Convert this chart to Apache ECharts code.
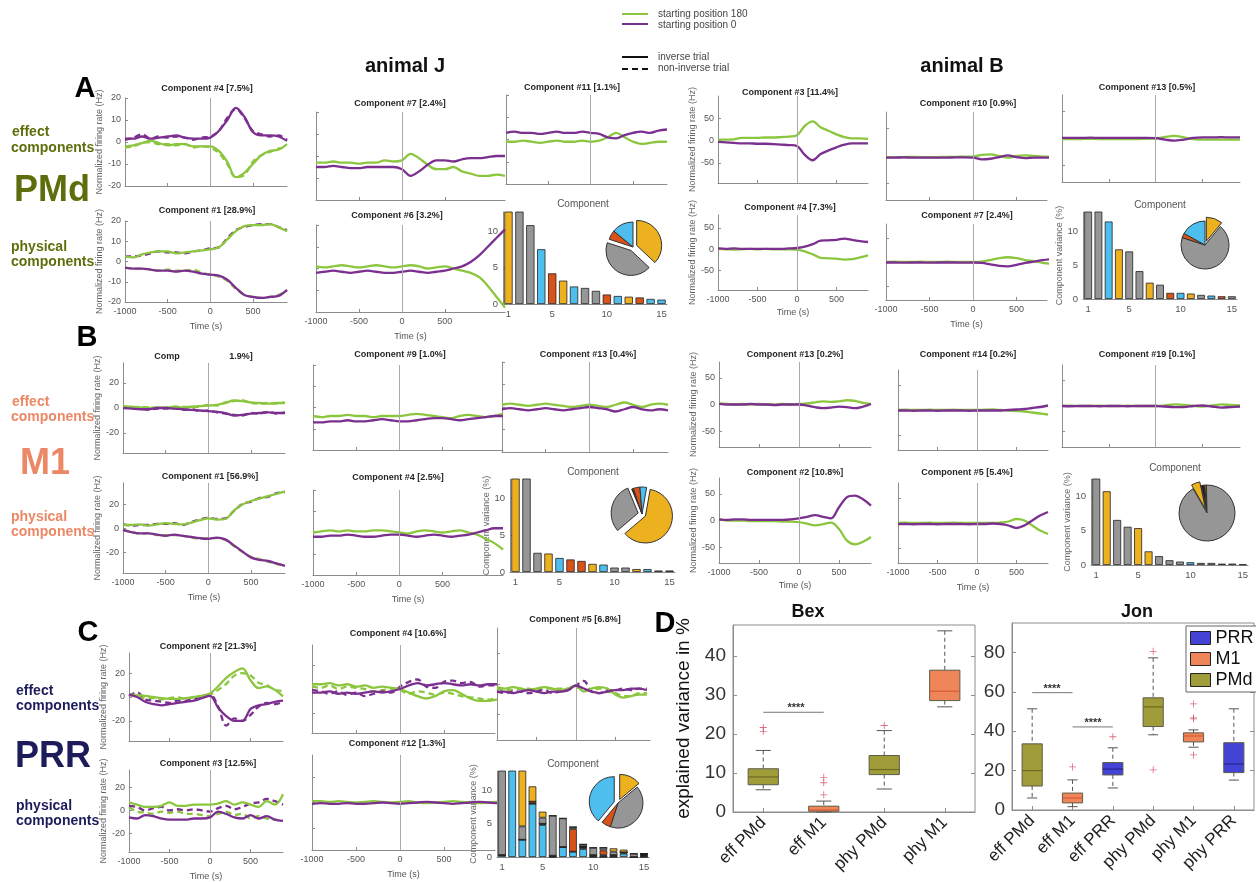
<!DOCTYPE html>
<html>
<head>
<meta charset="utf-8">
<script src="https://cdn.jsdelivr.net/npm/echarts@6/dist/echarts.min.js"></script>
<style>
html,body{margin:0;padding:0;background:#fff;}
#main{width:1256px;height:882px;}
</style>
</head>
<body>
<div id="main"></div>
<script>
// ---------------- time axes (ms relative to movement onset) ----------------
const timeStd  = [-1000,-900,-800,-700,-600,-500,-400,-300,-200,-100,0,100,200,300,400,500,600,700,800,900];
const timeLong = [-1000,-900,-800,-700,-600,-500,-400,-300,-200,-100,0,100,200,300,400,500,600,700,800,900,1000,1100,1200];
const timeTicks = [-1000,-500,0,500];

// ---------------- PMd (row A) ----------------
const a1eG  = [-2,-1.5,-0.5,0.5,-0.5,-1.5,-1,-1,-2,-2,-2,-4,-9,-16,-14,-10,-6,-4,-3.5,-1];
const a1eGD = [-2.5,-2,-0.5,0,-1,-1,-1.5,-1,-2.5,-2,-2.5,-5,-10,-16,-15,-9,-6,-4.5,-3,-2.5];
const a1eP  = [1.5,1.5,2.5,1.5,2,2.5,3,2,1.5,1.5,2,5,10,15.5,11.5,4.5,3,3,2.5,0.5];
const a1ePD = [1,2,3.5,1.5,2.5,2,2.5,2,1,2,2.5,5,11,15,11,5,3.5,2.5,3,1];
const a1pG  = [2.5,2,3.5,4.5,5,5,4,4.5,5,5.5,6,7,11,15,17.5,18,18,18.5,17,15];
const a1pGD = [-3,-3.5,-3.5,-4,-4.5,-4,-4.5,-4.5,-4,-5.5,-6.5,-7.5,-9.5,-13.5,-16.5,-17.5,-18,-17.5,-16.5,-14.5];
const a1pP  = [-3,-3.5,-3.5,-4,-4.5,-4.5,-5,-4.5,-5,-6,-6.5,-7,-9,-13,-16.5,-17.5,-18,-17.5,-17,-14];
const a1pPD = [2.5,2.5,3,4,5,4.5,4.5,4,5,5.5,6.5,7,11.5,15.5,17,18,18.5,18.5,17,15.5];
const a2eG  = [-3,-3,-2.5,-3,-3,-3.5,-3,-3,-2,-2.5,-2,1,-1,-4,-6,-6,-5,-7,-8,-9,-9,-8.5,-9];
const a2eP  = [-5,-5,-4.5,-5,-5.5,-5.5,-5,-5,-5,-5,-6,-9,-7,-4,-2,-2,-2.5,-1.5,-1,-1,-0.5,0,0];
const a2pG  = [1,0.5,1,1.5,1,0.5,1,1.5,1,0.5,1,1.5,1,0,0.5,1,0,-1,-2,-4,-8,-13,-18];
const a2pP  = [-2,-1.5,-1,-1.5,-2,-1.5,-1,-1.5,-2,-2,-1.5,-1,-1.5,-2,-1.5,-1,0,1,3,6,10,14,18];
const a3eG  = [-1,-1,-0.5,-1,-1.5,-1,-0.5,-1,-1,-0.5,-1,-0.5,1,3,1,-1,-2,-1.5,-1,-1];
const a3eP  = [3,3.5,3,3,2.5,3,3.5,3,3,3.5,3,2.5,1,0.5,2,3,3.5,3,4,4.5];
const a4eG  = [2,2,3,6,6,6,7,7,8,9,12,33,43,30,22,14,8,5,5,4];
const a4eP  = [-3,-4,-5,-6,-6,-7,-7,-8,-9,-10,-12,-32,-44,-30,-22,-15,-9,-6,-6,-6];
const a4pG  = [1,0,-1,0,1,0,1,0,0,0,-1,-5,-12,-20,-21,-22,-24,-23,-19,-14];
const a4pP  = [2,1,2,1,1,1,1,1,1,2,3,6,12,20,21,22,25,22,19,17];
const a5eG  = [-2,-2,-2,-1.5,-2,-2,-2,-1.5,-1.5,-1,-1,2,3,0,-3,0,1,0,-1,-1];
const a5eP  = [-3,-3,-2.5,-3,-3,-3,-3,-3,-2.5,-2.5,-3,-6,-5,-2,1,-2,-4,-3,-3,-3];
const a5pG  = [0,0.5,0,0,0.5,0,0,0.5,0,0,0,1,4,8,10,8,4,2,-2,-4];
const a5pP  = [-1,-1,-1.5,-1,-1,-1.5,-1,-1,-1,-1.5,-1,-2,-5,-8,-9,-6,-2,1,4,6];
const a6eG  = [-1,-1,-1,-0.5,-1,-1,-1,-1,-1,-0.5,0,3,5,2,-1,-2,-2,-2,-2,-2];
const a6eP  = [1,1,1,1.5,1,1,1,1,1,1,0.5,-2,-4,-2,1,2,2,2.5,2,2];

// ---------------- M1 (row B) ----------------
const b1eG  = [1,1,0.5,0,0.5,0,1,0.5,1,1.5,2,2.5,4,6,5.5,4.5,4,3.5,4,4];
const b1eGD = [1.5,0.5,1,0.5,0,0.5,1,1,0.5,1,2.5,2,4.5,5.5,6,4,3.5,4,3.5,4.5];
const b1eP  = [0,-0.5,-1,-1,0,0,-0.5,-1,-1.5,-2,-2.5,-3,-4,-6,-5.5,-4.5,-4,-3.5,-4,-4];
const b1ePD = [0.5,0,-0.5,-1.5,-0.5,-0.5,0,-1.5,-1,-2.5,-2,-3.5,-4.5,-5.5,-6,-4,-4.5,-3,-4.5,-3.5];
const b1pG  = [3,3,3.5,2.5,3.5,4.5,4,3.5,5,7,8.5,7.5,8,15,20,23,25,27,29,31];
const b1pGD = [-1.5,-2.5,-4.5,-3.5,-5.5,-5.5,-5.5,-6,-7.5,-8.5,-8,-8,-9.5,-14.5,-19.5,-23.5,-25.5,-27.5,-29.5,-30.5];
const b1pP  = [-1,-3,-4,-4,-5,-6,-5,-6,-7,-8,-8.5,-7.5,-9,-14,-19,-24,-26,-27,-29,-31];
const b1pPD = [3.5,2.5,3,3,4,4,4.5,3,5.5,7.5,9,8,8.5,14.5,20.5,22.5,25.5,26.5,29.5,30.5];
const b2eG  = [-4,-4.5,-4,-4,-3.5,-4,-4,-4.5,-4,-4,-4,-3.5,-3,-3.5,-4,-4.5,-5,-4,-3.5,-4,-4.5,-4,-3];
const b2eP  = [-7,-7,-6.5,-6.5,-6,-6.5,-6.5,-6,-5.5,-6,-6.5,-6.5,-6,-5.5,-5,-5,-5.5,-6,-5.5,-5,-4.5,-4,-4];
const b2pG  = [0,0.5,1,0.5,1,0.5,0.5,1,1,0.5,0,-0.5,0.5,1,0.5,0,0.5,1,0,-1,-3,-5,-8];
const b2pP  = [-2,-2,-1.5,-1.5,-1,-1.5,-2,-2,-1.5,-1,-1,-1.5,-2,-1.5,-1,-1.5,-2,-1.5,-1,0,1,2,2];
const b3eG  = [1,1.5,1,0.5,1,1.5,1,0.5,0,0.5,1,0.5,0,1,2,1,0,1,1.5,1];
const b3eP  = [-1,-0.5,-1,-1.5,-1,-0.5,-1,-1.5,-1,-0.5,0,-0.5,-1,-2,-1,0,-1,-1.5,-1,-1.5];
const b4eG  = [2,1,0,1,0,1,0,0,1,0,1,2,4,6,5,6,8,7,3,1];
const b4eP  = [1,0,0,0,1,0,0,-1,0,0,0,-2,-5,-7,-6,-4,-5,-7,-4,1];
const b4pG  = [2,0,0,0,-1,-1,-1,-1,-2,-2,-3,-6,-9,-7,-4,-16,-38,-45,-40,-31];
const b4pP  = [2,1,2,2,1,1,1,1,1,2,4,7,10,7,4,25,44,47,40,28];
const b5eG  = [0,0.5,0,0,0.5,0,0,0.5,0,0,0,0.5,1,0,-1,-2,-3,-5,-7,-9];
const b5eP  = [-1,-1,-1.5,-1,-1,-1.5,-1,-1,-1,-1.5,-1,-1,-1,-1,0,1,2,4,6,9];
const b5pG  = [0,0.5,0,0,0.5,0,0,0.5,0,0,0,0,0,1,3,8,5,-5,-15,-22];
const b5pP  = [-2,-2,-2.5,-2,-2,-2.5,-2,-2,-2,-2.5,-2,-2,-1,-2,-5,-10,-5,5,15,22];
const b6eG  = [0,0.5,0,0,0.5,0,0,0.5,0,0,0,1,3,2,0,-1,1,3,2,1];
const b6eP  = [0,-0.5,0,0,-0.5,0,0,-0.5,0,0,0,-1,-2,-2,0,1,-1,-3,-2,-1];

// ---------------- PRR (row C) ----------------
const c1eG  = [2,1.5,1,0,-1,-1.5,-1.5,-1,0,1,3,9,16,21,24,14,7.5,9,6,0.5];
const c1eGD = [2,1,-1,-1,-2,-1,0,-2,0,1,2,6,11,18,20,18,12,10,6,5];
const c1eP  = [2,0,-4,-6,-7,-6,-5,-4,-3,-1,1,-9,-16,-20,-20,-10,-7,-6,-4,-3];
const c1ePD = [1,4,-2,-3,-4,-5,-3,-3,-2,1,2,-8,-24,-18,-20,-15,-8,-5,-6,-4];
const c1pG  = [7,5,3,3,4,7,4,4,5,5,5,6,8,5,7,5,3,8,5,14];
const c1pGD = [3,-1,-2,-3,-1,-2,-1,-3,-3,-4,-5,-3,-1,-4,-3,-7,-5,-7,-8,-9];
const c1pP  = [-6,-7,-4,-5,-7,-8,-8,-8,-7,-7,-6,-1,-3,-6,-7,-4,-7,-5,-8,-9];
const c1pPD = [4,3,0,2,3,0,1,0,1,0,-1,2,4,1,3,6,7,10,8,5];
const c2eG  = [4,4,5,3,4,2,3,1,2,1,0,-3,-6,-8,-6,-2,-1,-4,-8,-10,-10,-9,-9];
const c2eGD = [2,1,3,0,2,1,0,-2,-1,0,-1,-4,-2,-3,-5,-3,-4,-6,-7,-8,-9,-8,-8];
const c2eP  = [-3,-3,-2,-4,-3,-4,-3,-2,-3,-2,0,3,5,3,4,5,4,3,4,3,4,4,4];
const c2ePD = [-1,-2,-4,-2,-5,-3,-6,-4,-2,-3,2,6,8,2,1,6,7,5,6,2,3,3,3];
const c2pG  = [1,1,0.5,1,0.5,0,0.5,1,0.5,0,0.5,1,0,-0.5,0,0.5,1,0.5,0,-0.5,0,0.5,0];
const c2pP  = [-1,-0.5,-1,-1,-0.5,-1,-1,-0.5,0,-0.5,-1,-0.5,0,0.5,0,-0.5,-1,-0.5,0,0.5,0,-0.5,-1];
const c3eG  = [-2,-3,-2,-3,-4,-3,-2,-3,-4,-3,-1,-5,-3,-2,-3,-7,-9,-8,-7,-7];
const c3eGD = [-3,-4,-4,-3,-3,-4,-3,-3,-3,-3,-2,-4,-4,-3,-5,-6,-8,-8,-6,-6];
const c3eP  = [-5,-5,-6,-5,-4,-5,-6,-5,-5,-4,-1,-3,-5,-6,-5,-4,-4,-3,-3,-4];
const c3ePD = [-5,-6,-5,-5,-6,-5,-4,-6,-5,-4,-1,2,-5,-6,-4,-4,-3,-4,-3,-3];

// ---------------- component variance bars (%) and their groups ----------------
// group keys: Y physical, B effect, G other, O / K remaining groups
const compLabels = ['1','2','3','4','5','6','7','8','9','10','11','12','13','14','15'];
const pmdJVar  = [28.9,20,10.8,7.5,4.2,3.2,2.4,2.2,1.8,1.3,1.1,1.0,0.9,0.7,0.6];
const pmdJKey  = ['Y','G','G','B','O','Y','B','G','G','O','B','Y','O','B','B'];
const m1JVar   = [56.9,20,2.6,2.5,1.9,1.7,1.5,1.1,1.0,0.6,0.6,0.4,0.4,0.2,0.2];
const m1JKey   = ['Y','G','G','Y','B','O','O','Y','B','G','G','Y','B','O','K'];
const pmdBVar  = [20,20,11.4,7.3,7.0,4.1,2.4,2.1,0.9,0.9,0.8,0.6,0.5,0.4,0.4];
const pmdBKey  = ['G','G','B','Y','G','G','Y','G','O','B','Y','G','B','O','G'];
const m1BVar   = [20,10.8,6.6,5.6,5.4,2.0,1.3,0.7,0.5,0.4,0.3,0.3,0.2,0.2,0.1];
const m1BKey   = ['G','Y','G','G','Y','Y','G','G','G','B','G','G','B','B','G'];
// PRR, animal J: stacked contributions per component
const prrJBlue   = [0.3,20,2.6,8.0,4.8,0,1.5,0.8,1.2,0,0,0,0.5,0,0];
const prrJBlack  = [0,0,0,0,0.2,0.2,0,0,0.4,0.3,0.3,0.3,0.2,0,0.5];
const prrJOrange = [0,0,0,0.3,0,0,0,3.4,0,0,0.7,0,0,0,0];
const prrJGray   = [20,0,2.0,0,0.9,6.0,4.3,0.3,0.3,1.1,0.4,0.5,0,0.5,0];
const prrJYellow = [0,0,20,2.3,0.9,0,0,0,0,0,0,0.5,0.4,0,0];

// pie shares (%), group key, exploded flag
const piePmdJ = [37,43,6,14];  const piePmdJKey = ['Y','G','O','B']; const piePmdJOut = [1,1,0,0];
const pieM1J  = [61,30,1,4,4]; const pieM1JKey  = ['Y','G','K','O','B']; const pieM1JOut = [1,1,0,0,0];
const piePrrJ = [14,41,6,39];  const piePrrJKey = ['Y','G','O','B']; const piePrrJOut = [1,0,0,1];
const piePmdB = [11,69,3,17];  const piePmdBKey = ['Y','G','O','B']; const piePmdBOut = [1,0,0,0];
const pieM1B  = [5,2,1,92];    const pieM1BKey  = ['Y','K','O','G']; const pieM1BOut = [1,0,0,0];

// ---------------- panel D: explained variance boxplots ----------------
// [lower whisker, Q1, median, Q3, upper whisker]
const bexCats = ['eff PMd','eff M1','phy PMd','phy M1'];
const bexArea = ['PMd','M1','PMd','M1'];
const bexStats = [[5.7,7.0,9.0,11.1,15.8],[0,0.2,0.5,1.5,2.8],[5.9,9.6,10.9,14.5,20.9],[27.0,28.6,31.0,36.4,46.5]];
const bexOutliers = [[0,20.7],[0,21.7],[1,4.4],[1,7.5],[1,8.9],[2,22.2]];
const bexSig = [[0,1,25.6]];
const bexTicks = [0,10,20,30,40];
const jonCats = ['eff PMd','eff M1','eff PRR','phy PMd','phy M1','phy PRR'];
const jonArea = ['PMd','M1','PRR','PMd','M1','PRR'];
const jonStats = [[6.1,12.2,20.0,33.6,51.4],[1.7,3.6,6.1,8.6,15.3],[11.2,17.8,20.8,24.1,31.6],[38.2,42.4,52.4,57.0,77.3],[31.9,34.6,37.6,39.2,40.7],[15.2,19.0,23.4,34.2,51.4]];
const jonOutliers = [[1,21.9],[2,37.2],[3,80.6],[3,20.4],[4,53.9],[4,46.8],[4,46.3],[4,28.0]];
const jonSig = [[0,1,59.6],[1,2,42.2]];
const jonTicks = [0,20,40,60,80];

// ---------------- styling ----------------
const FONT = '"Liberation Sans", Arial, Helvetica, sans-serif';
const GREEN = '#8cc63f', PURPLE = '#7b2f8f';
const AXIS = '#8c8c8c', TICKTXT = '#555';
const KEY_COLOR = {Y:'#edb120', O:'#d95319', B:'#4dbeee', G:'#969696', K:'#1e1e1e'};
const AREA_FILL = {PMd:'#a09c3a', M1:'#ef865a', PRR:'#4343d6'};
const AREA_MEDIAN = {PMd:'#6c6920', M1:'#d65a36', PRR:'#26268e'};
const PMD_TXT = '#5f6e0c', M1_TXT = '#ec8866', PRR_TXT = '#1c1c5a';
const plain = v => String(v);

const grids = [], xAxes = [], yAxes = [], series = [], graphics = [];

function addText(text, x, y, font, fill, align) {
  graphics.push({type:'text', x:x, y:y, silent:true, z:50,
    style:{text:text, font:font + ' ' + FONT, fill:fill || '#222',
      align:align || 'center', verticalAlign:'middle',
      textAlign:align || 'center', textVerticalAlign:'middle'}});
}

function timePanel(p) {
  const gi = grids.length;
  grids.push({left:p.box[0], top:p.box[1], width:p.box[2], height:p.box[3]});
  xAxes.push({type:'value', gridIndex:gi, min:p.xr[0], max:p.xr[1], splitLine:{show:false},
    axisLine:{show:true, onZero:false, lineStyle:{color:AXIS}},
    axisTick:{show:true, inside:true, length:3, customValues:timeTicks, lineStyle:{color:AXIS}},
    axisLabel:{show:!!p.xLab, customValues:timeTicks, formatter:plain, fontSize:9, color:TICKTXT, margin:5},
    name:p.xName ? 'Time (s)' : '', nameLocation:'middle', nameGap:p.xGap || 20,
    nameTextStyle:{fontSize:9, color:TICKTXT}});
  yAxes.push({type:'value', gridIndex:gi, min:p.yr[0], max:p.yr[1], splitLine:{show:false},
    axisLine:{show:true, onZero:false, lineStyle:{color:AXIS}},
    axisTick:{show:true, inside:true, length:3, customValues:p.yt, lineStyle:{color:AXIS}},
    axisLabel:{show:!!p.yLab, customValues:p.yt, formatter:plain, fontSize:9, color:TICKTXT, margin:4},
    name:p.yName ? 'Normalized firing rate (Hz)' : '', nameLocation:'middle', nameGap:p.yGap || 15,
    nameTextStyle:{fontSize:9, color:'#666'}});
  const pts = arr => p.t.map((v, i) => [v, arr[i]]);
  const sets = [];
  if (p.gd) sets.push([p.gd, GREEN, [6,4]]);
  if (p.pd) sets.push([p.pd, PURPLE, [6,4]]);
  sets.push([p.g, GREEN, 'solid']);
  sets.push([p.p, PURPLE, 'solid']);
  sets.forEach((s, k) => {
    const ser = {type:'line', xAxisIndex:gi, yAxisIndex:gi, data:pts(s[0]), smooth:0.35,
      showSymbol:false, silent:true, clip:true,
      lineStyle:{color:s[1], width:2.3, type:s[2]}, z:3 + k};
    if (k === 0) {
      ser.markLine = {silent:true, symbol:['none','none'], label:{show:false},
        lineStyle:{color:'#aaaaaa', width:1, type:'solid'}, data:[{xAxis:0}]};
    }
    series.push(ser);
  });
  if (p.title) addText(p.title, p.tp[0], p.tp[1], 'bold 9px', '#262626');
}

function barPanel(p) {
  const gi = grids.length;
  grids.push({left:p.box[0], top:p.box[1], width:p.box[2], height:p.box[3]});
  xAxes.push({type:'category', gridIndex:gi, data:compLabels,
    axisLine:{show:true, onZero:false, lineStyle:{color:AXIS}}, axisTick:{show:false},
    axisLabel:{fontSize:9.5, color:TICKTXT, margin:5, interval:(i) => i === 0 || i === 4 || i === 9 || i === 14}});
  yAxes.push({type:'value', gridIndex:gi, min:0, max:p.yMax, splitLine:{show:false},
    axisLine:{show:true, onZero:false, lineStyle:{color:AXIS}},
    axisTick:{show:true, inside:true, length:3, customValues:[0,5,10], lineStyle:{color:AXIS}},
    axisLabel:{customValues:[0,5,10], fontSize:9.5, color:TICKTXT, margin:5},
    name:p.yName ? 'Component variance (%)' : '', nameLocation:'middle', nameGap:p.yGap || 15,
    nameTextStyle:{fontSize:9, color:'#666'}});
  if (p.vals) {
    series.push({type:'bar', xAxisIndex:gi, yAxisIndex:gi, clip:true, silent:true, barCategoryGap:'24%',
      itemStyle:{borderColor:'#222', borderWidth:0.8},
      data:p.vals.map((v, i) => ({value:v, itemStyle:{color:KEY_COLOR[p.keys[i]]}}))});
  } else {
    p.stacks.forEach(s => {
      series.push({type:'bar', xAxisIndex:gi, yAxisIndex:gi, stack:'s' + gi, clip:true, silent:true,
        barCategoryGap:'24%', itemStyle:{color:KEY_COLOR[s[1]], borderColor:'#222', borderWidth:0.8},
        data:s[0]});
    });
  }
  addText('Component', p.cp[0], p.cp[1], '10px', '#555');
  series.push({type:'pie', center:p.pie.c, radius:p.pie.r, startAngle:p.pie.a || 90, clockwise:true,
    silent:true, selectedMode:'multiple', selectedOffset:4, avoidLabelOverlap:false,
    label:{show:false}, labelLine:{show:false}, emphasis:{disabled:true},
    itemStyle:{borderColor:'#333', borderWidth:1},
    data:p.pie.v.map((v, i) => ({value:v, selected:!!p.pie.out[i], itemStyle:{color:KEY_COLOR[p.pie.k[i]]}}))});
}

// ---------------- time-course panels ----------------
const Y20 = [-20,-10,0,10,20], Y2 = [-20,0,20], Y50 = [-50,0,50];
[
  // PMd, animal J
  {box:[125,98,162,88], xr:[-1000,900], yr:[-20,20], yt:Y20, yLab:1, yName:1, t:timeStd, g:a1eG, gd:a1eGD, p:a1eP, pd:a1ePD, title:'Component #4 [7.5%]', tp:[207,89]},
  {box:[125,221,162,81], xr:[-1000,900], yr:[-20,20], yt:Y20, yLab:1, yName:1, xLab:1, xName:1, t:timeStd, g:a1pG, gd:a1pGD, p:a1pP, pd:a1pPD, title:'Component #1 [28.9%]', tp:[207,211]},
  {box:[316,112,189,88], xr:[-1000,1200], yr:[-20,20], yt:Y20, t:timeLong, g:a2eG, p:a2eP, title:'Component #7 [2.4%]', tp:[400,104]},
  {box:[316,225,189,87], xr:[-1000,1200], yr:[-20,20], yt:Y20, xLab:1, xName:1, t:timeLong, g:a2pG, p:a2pP, title:'Component #6 [3.2%]', tp:[397,216]},
  {box:[506,95,161,89], xr:[-1000,900], yr:[-20,20], yt:Y20, t:timeStd, g:a3eG, p:a3eP, title:'Component #11 [1.1%]', tp:[572,88]},
  // PMd, animal B
  {box:[718,96,150,87], xr:[-1000,900], yr:[-95,100], yt:Y50, yLab:1, yName:1, yGap:20, t:timeStd, g:a4eG, p:a4eP, title:'Component #3 [11.4%]', tp:[790,93]},
  {box:[718,215,150,75], xr:[-1000,900], yr:[-95,80], yt:Y50, yLab:1, yName:1, yGap:20, xLab:1, xName:1, xGap:18, t:timeStd, g:a4pG, p:a4pP, title:'Component #4 [7.3%]', tp:[790,208]},
  {box:[886,112,161,88], xr:[-1000,850], yr:[-80,80], yt:Y50, t:timeStd, g:a5eG, p:a5eP, title:'Component #10 [0.9%]', tp:[968,104]},
  {box:[886,224,161,76], xr:[-1000,850], yr:[-80,80], yt:Y50, xLab:1, xName:1, t:timeStd, g:a5pG, p:a5pP, title:'Component #7 [2.4%]', tp:[967,216]},
  {box:[1062,95,178,87], xr:[-1000,900], yr:[-80,80], yt:Y50, t:timeStd, g:a6eG, p:a6eP, title:'Component #13 [0.5%]', tp:[1147,88]},
  // M1, animal J
  {box:[123,363,162,90], xr:[-1000,900], yr:[-36,36], yt:Y2, yLab:1, yName:1, t:timeStd, g:b1eG, gd:b1eGD, p:b1eP, pd:b1ePD},
  {box:[123,483,162,90], xr:[-1000,900], yr:[-37,38], yt:Y2, yLab:1, yName:1, xLab:1, xName:1, t:timeStd, g:b1pG, gd:b1pGD, p:b1pP, pd:b1pPD, title:'Component #1 [56.9%]', tp:[210,477]},
  {box:[313,365,190,85], xr:[-1000,1200], yr:[-20,20], yt:Y20, t:timeLong, g:b2eG, p:b2eP, title:'Component #9 [1.0%]', tp:[400,355]},
  {box:[313,490,190,85], xr:[-1000,1200], yr:[-20,20], yt:Y20, xLab:1, xName:1, t:timeLong, g:b2pG, p:b2pP, title:'Component #4 [2.5%]', tp:[398,478]},
  {box:[502,362,166,90], xr:[-1000,900], yr:[-20,20], yt:Y20, t:timeStd, g:b3eG, p:b3eP, title:'Component #13 [0.4%]', tp:[588,355]},
  // M1, animal B
  {box:[719,362,152,85], xr:[-1000,900], yr:[-80,80], yt:Y50, yLab:1, yName:1, yGap:20, t:timeStd, g:b4eG, p:b4eP, title:'Component #13 [0.2%]', tp:[795,355]},
  {box:[719,478,152,85], xr:[-1000,900], yr:[-80,80], yt:Y50, yLab:1, yName:1, yGap:20, xLab:1, xName:1, xGap:18, t:timeStd, g:b4pG, p:b4pP, title:'Component #2 [10.8%]', tp:[795,473]},
  {box:[898,370,150,80], xr:[-1000,900], yr:[-80,80], yt:Y50, t:timeStd, g:b5eG, p:b5eP, title:'Component #14 [0.2%]', tp:[968,355]},
  {box:[898,483,150,80], xr:[-1000,900], yr:[-80,80], yt:Y50, xLab:1, xName:1, t:timeStd, g:b5pG, p:b5pP, title:'Component #5 [5.4%]', tp:[967,473]},
  {box:[1062,365,178,82], xr:[-1000,900], yr:[-80,80], yt:Y50, t:timeStd, g:b6eG, p:b6eP, title:'Component #19 [0.1%]', tp:[1147,355]},
  // PRR, animal J
  {box:[129,653,154,88], xr:[-1000,900], yr:[-37,37], yt:Y2, yLab:1, yName:1, t:timeStd, g:c1eG, gd:c1eGD, p:c1eP, pd:c1ePD, title:'Component #2 [21.3%]', tp:[208,647]},
  {box:[129,770,154,85], xr:[-1000,900], yr:[-36,35], yt:Y2, yLab:1, yName:1, xLab:1, xName:1, t:timeStd, g:c1pG, gd:c1pGD, p:c1pP, pd:c1pPD, title:'Component #3 [12.5%]', tp:[208,764]},
  {box:[312,645,183,88], xr:[-1000,1080], yr:[-37,37], yt:Y2, t:timeLong, g:c2eG, gd:c2eGD, p:c2eP, pd:c2ePD, title:'Component #4 [10.6%]', tp:[398,634]},
  {box:[312,755,183,95], xr:[-1000,1080], yr:[-37,37], yt:Y2, xLab:1, xName:1, t:timeLong, g:c2pG, p:c2pP, title:'Component #12 [1.3%]', tp:[397,744]},
  {box:[497,628,153,112], xr:[-1000,940], yr:[-37,37], yt:Y2, t:timeStd, g:c3eG, gd:c3eGD, p:c3eP, pd:c3ePD, title:'Component #5 [6.8%]', tp:[575,620]}
].forEach(timePanel);

// partially hidden title of the M1 effect component (animal J)
addText('Comp', 167, 357, 'bold 9px', '#262626');
addText('1.9%]', 241, 357, 'bold 9px', '#262626');

// ---------------- variance bars + pies ----------------
barPanel({box:[503,212,164,92], yMax:12.6, vals:pmdJVar, keys:pmdJKey, cp:[583,204],
  pie:{c:[633,247], r:25, v:piePmdJ, k:piePmdJKey, out:piePmdJOut}});
barPanel({box:[510,479,165,93], yMax:12.6, vals:m1JVar, keys:m1JKey, yName:1, yGap:18, cp:[593,472],
  pie:{c:[642,514], r:27, a:80, v:pieM1J, k:pieM1JKey, out:pieM1JOut}});
barPanel({box:[497,771,152,86], yMax:12.9, yName:1, yGap:18, cp:[573,764],
  stacks:[[prrJBlue,'B'],[prrJBlack,'K'],[prrJOrange,'O'],[prrJGray,'G'],[prrJYellow,'Y']],
  pie:{c:[618,803], r:25, v:piePrrJ, k:piePrrJKey, out:piePrrJOut}});
barPanel({box:[1083,212,154,87], yMax:12.8, vals:pmdBVar, keys:pmdBKey, yName:1, yGap:18, cp:[1160,205],
  pie:{c:[1205,245], r:24, v:piePmdB, k:piePmdBKey, out:piePmdBOut}});
barPanel({box:[1091,479,157,86], yMax:12.6, vals:m1BVar, keys:m1BKey, yName:1, yGap:18, cp:[1175,468],
  pie:{c:[1207,513], r:28, a:120, v:pieM1B, k:pieM1BKey, out:pieM1BOut}});

// ---------------- panel D ----------------
const PLUS = 'path://M4.4,0 H5.6 V4.4 H10 V5.6 H5.6 V10 H4.4 V5.6 H0 V4.4 H4.4 Z';

function boxRenderer(medianColor) {
  return function (params, api) {
    const i = api.value(0);
    const lo = api.coord([i, api.value(1)]), q1 = api.coord([i, api.value(2)]);
    const md = api.coord([i, api.value(3)]), q3 = api.coord([i, api.value(4)]);
    const hi = api.coord([i, api.value(5)]);
    const band = api.size([1, 0])[0];
    const w = band * 0.5, cw = band * 0.25, x = lo[0];
    const wStyle = {stroke:'#555', lineWidth:1, lineDash:[4,3]};
    const cStyle = {stroke:'#555', lineWidth:1};
    return {type:'group', children:[
      {type:'line', shape:{x1:x, y1:hi[1], x2:x, y2:q3[1]}, style:wStyle},
      {type:'line', shape:{x1:x, y1:q1[1], x2:x, y2:lo[1]}, style:wStyle},
      {type:'line', shape:{x1:x - cw / 2, y1:hi[1], x2:x + cw / 2, y2:hi[1]}, style:cStyle},
      {type:'line', shape:{x1:x - cw / 2, y1:lo[1], x2:x + cw / 2, y2:lo[1]}, style:cStyle},
      {type:'rect', shape:{x:x - w / 2, y:q3[1], width:w, height:Math.max(1, q1[1] - q3[1])},
        style:{fill:api.visual('color'), stroke:'#5c5c4a', lineWidth:1}},
      {type:'line', shape:{x1:x - w / 2, y1:md[1], x2:x + w / 2, y2:md[1]}, style:{stroke:medianColor, lineWidth:1.2}}
    ]};
  };
}

function boxPanel(box, cats, stats, areas, outliers, sig, yMax, ticks, yName) {
  const gi = grids.length;
  grids.push({left:box[0], top:box[1], width:box[2], height:box[3], show:true, borderColor:'#8c8c8c', borderWidth:1});
  xAxes.push({type:'category', gridIndex:gi, data:cats,
    axisLine:{show:true, onZero:false, lineStyle:{color:'#8c8c8c'}},
    axisTick:{show:true, inside:true, alignWithLabel:true, length:4, lineStyle:{color:'#8c8c8c'}},
    axisLabel:{rotate:45, interval:0, fontSize:17, color:'#222', margin:8}});
  const yi = yAxes.length;
  yAxes.push({type:'value', gridIndex:gi, min:0, max:yMax, splitLine:{show:false},
    axisLine:{show:true, onZero:false, lineStyle:{color:'#8c8c8c'}},
    axisTick:{show:true, inside:true, length:4, customValues:ticks, lineStyle:{color:'#8c8c8c'}},
    axisLabel:{customValues:ticks, formatter:plain, fontSize:19, color:'#333', margin:7},
    name:yName || '', nameLocation:'middle', nameGap:40, nameTextStyle:{fontSize:19, color:'#111'}});
  yAxes.push({type:'value', gridIndex:gi, position:'right', min:0, max:yMax,
    splitLine:{show:false}, axisLine:{show:false}, axisLabel:{show:false},
    axisTick:{show:true, inside:true, length:4, customValues:ticks, lineStyle:{color:'#8c8c8c'}}});
  ['PMd','M1','PRR'].forEach(area => {
    const data = [];
    stats.forEach((s, i) => { if (areas[i] === area) data.push([i].concat(s)); });
    if (!data.length) return;
    series.push({type:'custom', name:area, xAxisIndex:gi, yAxisIndex:yi, silent:true,
      itemStyle:{color:AREA_FILL[area]}, encode:{x:0, y:[1,2,3,4,5]},
      renderItem:boxRenderer(AREA_MEDIAN[area]), data:data, z:3});
  });
  series.push({type:'scatter', xAxisIndex:gi, yAxisIndex:yi, symbol:PLUS, symbolSize:7, silent:true,
    itemStyle:{color:'#d24a62'}, data:outliers, z:4});
  sig.forEach(s => {
    series.push({type:'line', xAxisIndex:gi, yAxisIndex:yi, silent:true, showSymbol:false, symbol:'none',
      lineStyle:{color:'#777', width:1}, data:[[s[0], s[2]], [s[1], s[2]]], z:4});
  });
}

boxPanel([733,625,242,187], bexCats, bexStats, bexArea, bexOutliers, bexSig, 48, bexTicks, 'explained variance in %');
boxPanel([1012,623,242,187], jonCats, jonStats, jonArea, jonOutliers, jonSig, 95, jonTicks, '');
addText('****', 796, 708, 'bold 11px', '#333');
addText('****', 1052, 689, 'bold 11px', '#333');
addText('****', 1093, 723, 'bold 11px', '#333');
addText('Bex', 808, 612, 'bold 18px', '#111');
addText('Jon', 1137, 612, 'bold 18px', '#111');

// ---------------- headings, row labels, key ----------------
addText('animal J', 405, 66, 'bold 20px', '#111');
addText('animal B', 962, 66, 'bold 20px', '#111');
addText('A', 85, 89, 'bold 29px', '#000');
addText('B', 87, 338, 'bold 29px', '#000');
addText('C', 88, 633, 'bold 29px', '#000');
addText('D', 665, 624, 'bold 29px', '#000');

addText('effect', 12, 132, 'bold 14px', PMD_TXT, 'left');
addText('components', 11, 148, 'bold 14px', PMD_TXT, 'left');
addText('PMd', 14, 191, 'bold 36px', PMD_TXT, 'left');
addText('physical', 11, 247, 'bold 14px', PMD_TXT, 'left');
addText('components', 11, 262, 'bold 14px', PMD_TXT, 'left');

addText('effect', 12, 402, 'bold 14px', M1_TXT, 'left');
addText('components', 11, 417, 'bold 14px', M1_TXT, 'left');
addText('M1', 20, 464, 'bold 36px', M1_TXT, 'left');
addText('physical', 11, 517, 'bold 14px', M1_TXT, 'left');
addText('components', 11, 532, 'bold 14px', M1_TXT, 'left');

addText('effect', 16, 691, 'bold 14px', PRR_TXT, 'left');
addText('components', 16, 706, 'bold 14px', PRR_TXT, 'left');
addText('PRR', 15, 757, 'bold 36px', PRR_TXT, 'left');
addText('physical', 16, 806, 'bold 14px', PRR_TXT, 'left');
addText('components', 16, 821, 'bold 14px', PRR_TXT, 'left');

// trial-condition key
[[14, GREEN, null], [24, PURPLE, null], [57, '#111', null], [69, '#111', [6,4]]].forEach(k => {
  graphics.push({type:'line', silent:true, shape:{x1:622, y1:k[0], x2:648, y2:k[0]},
    style:{stroke:k[1], lineWidth:2, lineDash:k[2]}});
});
addText('starting position 180', 658, 14, '10px', '#444', 'left');
addText('starting position 0', 658, 25, '10px', '#444', 'left');
addText('inverse trial', 658, 57, '10px', '#444', 'left');
addText('non-inverse trial', 658, 68, '10px', '#444', 'left');

const chart = echarts.init(document.getElementById('main'), null, {renderer:'canvas'});
chart.setOption({
  animation:false,
  backgroundColor:'#ffffff',
  textStyle:{fontFamily:FONT},
  grid:grids, xAxis:xAxes, yAxis:yAxes, series:series, graphic:graphics,
  legend:{data:['PRR','M1','PMd'], orient:'vertical', left:1186, top:626, selectedMode:false,
    icon:'rect', itemWidth:20, itemHeight:13, itemGap:3, padding:[3,20,3,4],
    borderColor:'#666', borderWidth:1, backgroundColor:'#fff',
    itemStyle:{borderColor:'#222', borderWidth:1},
    textStyle:{fontSize:18, lineHeight:18, color:'#111', fontFamily:FONT}}
});
</script>
</body>
</html>
